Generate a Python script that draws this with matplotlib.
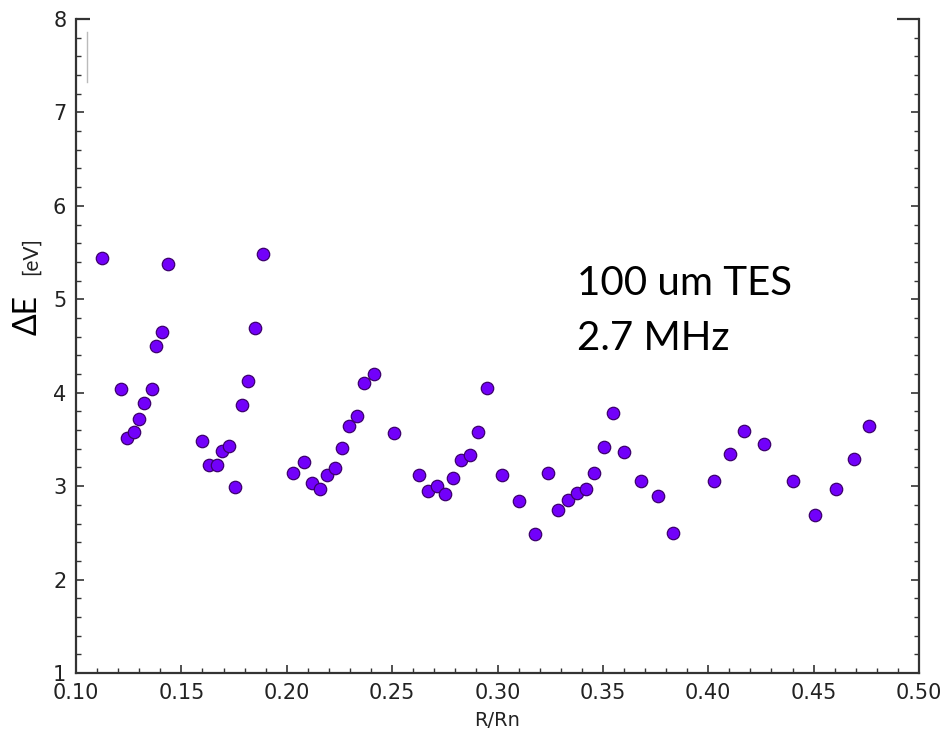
import matplotlib
matplotlib.use("Agg")
import matplotlib.pyplot as plt
from matplotlib.lines import Line2D
from matplotlib.ticker import MultipleLocator

r_over_rn = [0.1123, 0.1215, 0.1241, 0.1274, 0.1299, 0.1324, 0.1359, 0.1378, 0.1408, 0.1435,
             0.1596, 0.1631, 0.1668, 0.1694, 0.1726, 0.1754, 0.1788, 0.1816, 0.1848, 0.1887,
             0.2031, 0.2084, 0.2121, 0.2156, 0.2192, 0.2228, 0.2261, 0.2295, 0.2332, 0.2368,
             0.2414, 0.2508, 0.2629, 0.2672, 0.2712, 0.2752, 0.2790, 0.2828, 0.2870, 0.2908,
             0.2952, 0.3021, 0.3102, 0.3178, 0.3240, 0.3286, 0.3333, 0.3376, 0.3419, 0.3458,
             0.3503, 0.3546, 0.3600, 0.3681, 0.3760, 0.3834, 0.4029, 0.4102, 0.4170, 0.4265,
             0.4402, 0.4505, 0.4606, 0.4692, 0.4761]
delta_e = [5.44, 4.04, 3.52, 3.58, 3.72, 3.89, 4.04, 4.50, 4.65, 5.38,
           3.48, 3.23, 3.23, 3.38, 3.43, 2.99, 3.87, 4.13, 4.69, 5.49,
           3.14, 3.26, 3.03, 2.97, 3.12, 3.19, 3.41, 3.64, 3.75, 4.10,
           4.20, 3.57, 3.12, 2.95, 3.00, 2.92, 3.09, 3.28, 3.33, 3.58,
           4.05, 3.12, 2.84, 2.49, 3.14, 2.74, 2.85, 2.93, 2.97, 3.14,
           3.42, 3.78, 3.37, 3.06, 2.89, 2.50, 3.06, 3.34, 3.59, 3.45,
           3.06, 2.69, 2.97, 3.29, 3.64]

x_ticks = [0.10, 0.15, 0.20, 0.25, 0.30, 0.35, 0.40, 0.45, 0.50]
x_tick_labels = ["0.10", "0.15", "0.20", "0.25", "0.30", "0.35", "0.40", "0.45", "0.50"]
y_ticks = [1, 2, 3, 4, 5, 6, 7, 8]
y_tick_labels = ["1", "2", "3", "4", "5", "6", "7", "8"]

fig = plt.figure(figsize=(9.47, 7.32), dpi=100)
ax = fig.add_axes([76/947, 1-673/732, (919-76)/947, (673-19)/732])

ax.scatter(r_over_rn, delta_e, s=80, c="#7200fa", edgecolors="#3d006e", linewidths=0.9, zorder=3)

ax.set_xlim(0.10, 0.50)
ax.set_ylim(1, 8)
ax.set_xticks(x_ticks)
ax.set_xticklabels(x_tick_labels)
ax.set_yticks(y_ticks)
ax.set_yticklabels(y_tick_labels)
ax.xaxis.set_minor_locator(MultipleLocator(0.01))
ax.yaxis.set_minor_locator(MultipleLocator(0.2))
ax.tick_params(which="both", direction="in", top=False, right=True, colors="#333333",
               labelcolor="#222222", labelsize=15, pad=7)
ax.tick_params(which="major", length=6, width=1.2)
ax.tick_params(which="minor", length=3.5, width=1.0)

for side in ["left", "bottom", "right"]:
    ax.spines[side].set_linewidth(1.6)
    ax.spines[side].set_color("#333333")
ax.spines["top"].set_visible(False)
# partial top border segments
ax.add_line(Line2D([0, 14/843], [1, 1], transform=ax.transAxes, color="#333333", lw=1.6,
                   clip_on=False, solid_capstyle="butt"))
ax.add_line(Line2D([821/843, 1], [1, 1], transform=ax.transAxes, color="#333333", lw=1.6,
                   clip_on=False, solid_capstyle="butt"))
ax.add_line(Line2D([11/843, 11/843], [1-13/654, 1-63/654], transform=ax.transAxes,
                   color="#bbbbbb", lw=1.0, clip_on=False))

ax.set_xlabel("R/Rn", fontsize=14, color="#222222", labelpad=6)

fig.text(28/947, 1-315/732, "ΔE", rotation=90, fontsize=23, family="Lato",
         ha="center", va="center", color="black")
fig.text(31/947, 1-256/732, "[eV]", rotation=90, fontsize=15, family="Lato",
         ha="center", va="center", color="#222222")

ax.text(577/947, 1-295/732, "100 um TES", transform=fig.transFigure, fontsize=29,
        family="Lato", ha="left", va="baseline", color="black")
ax.text(577/947, 1-350/732, "2.7 MHz", transform=fig.transFigure, fontsize=29,
        family="Lato", ha="left", va="baseline", color="black")

fig.savefig("out.png", dpi=100)
